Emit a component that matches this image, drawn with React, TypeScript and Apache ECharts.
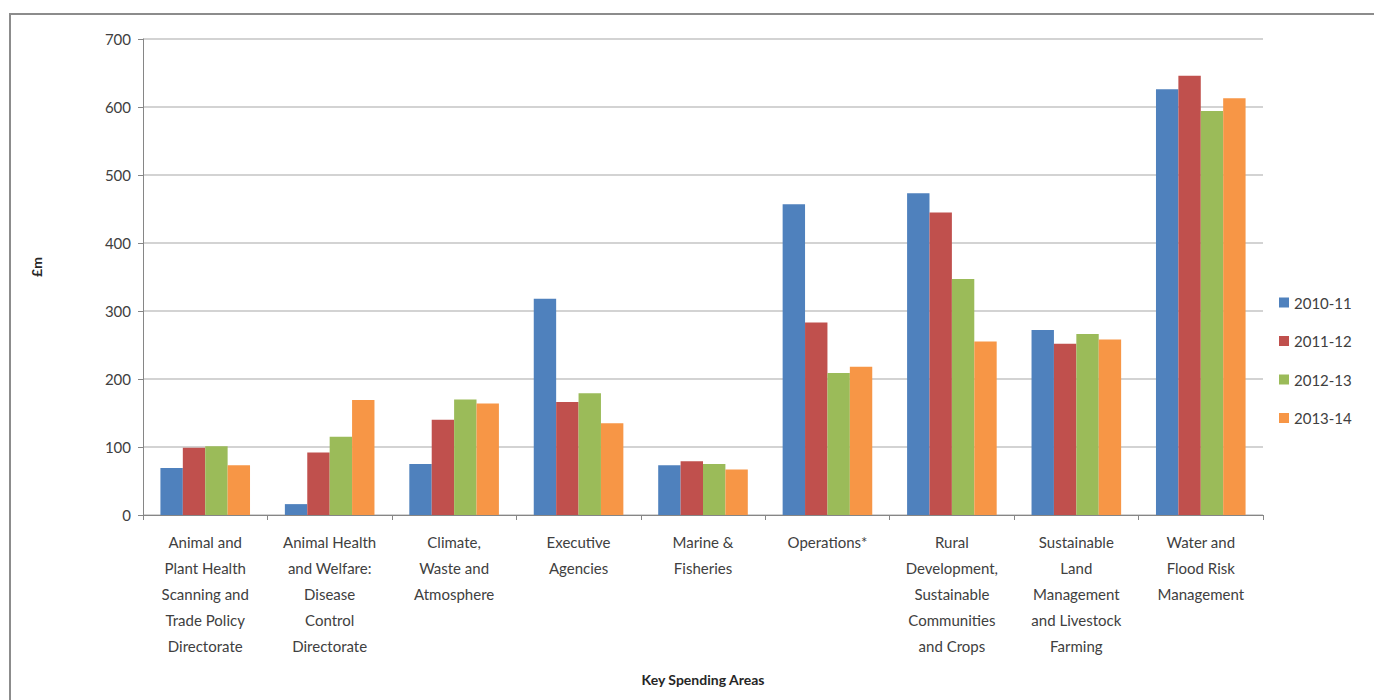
import React, { useEffect, useRef } from "react";
import * as echarts from "echarts";

const categories = [
  "Animal and\nPlant Health\nScanning and\nTrade Policy\nDirectorate",
  "Animal Health\nand Welfare:\nDisease\nControl\nDirectorate",
  "Climate,\nWaste and\nAtmosphere",
  "Executive\nAgencies",
  "Marine &\nFisheries",
  "Operations*",
  "Rural\nDevelopment,\nSustainable\nCommunities\nand Crops",
  "Sustainable\nLand\nManagement\nand Livestock\nFarming",
  "Water and\nFlood Risk\nManagement",
];

const seriesNames = ["2010-11", "2011-12", "2012-13", "2013-14"];
const values2010 = [69, 16, 75, 318, 73, 457, 473, 272, 626];
const values2011 = [99, 92, 140, 166, 79, 283, 445, 252, 646];
const values2012 = [101, 115, 170, 179, 75, 209, 347, 266, 594];
const values2013 = [73, 169, 164, 135, 67, 218, 255, 258, 613];
const colors = ["#4F81BD", "#C0504D", "#9BBB59", "#F79646"];

const FONT = "Lato";

export default function App() {
  const ref = useRef<HTMLDivElement>(null);
  useEffect(() => {
    document.body.style.margin = "0";
    const chart = echarts.init(ref.current!, null, { renderer: "svg" });
    const allValues = [values2010, values2011, values2012, values2013];
    chart.setOption({
      animation: false,
      backgroundColor: "#ffffff",
      textStyle: { fontFamily: FONT },
      graphic: [
        {
          type: "rect",
          shape: { x: 10, y: 14, width: 1400, height: 720 },
          style: { fill: "none", stroke: "#8c8c8c", lineWidth: 2 },
          silent: true,
        },
      ],
      grid: { left: 143, right: 111, top: 39, bottom: 185 },
      legend: {
        orient: "vertical",
        left: 1274,
        top: 290,
        itemWidth: 10,
        itemHeight: 10,
        itemGap: 23.5,
        icon: "rect",
        textStyle: { fontFamily: FONT, fontSize: 15, color: "#404040" },
        data: seriesNames,
      },
      xAxis: {
        type: "category",
        data: categories,
        name: "Key Spending Areas",
        nameLocation: "middle",
        nameGap: 157,
        nameTextStyle: { fontFamily: FONT, fontSize: 14, fontWeight: "bold", color: "#262626" },
        axisLine: { lineStyle: { color: "#868686" } },
        axisTick: { show: true, length: 5, lineStyle: { color: "#868686" } },
        axisLabel: {
          interval: 0,
          margin: 14,
          fontFamily: FONT,
          fontSize: 15,
          lineHeight: 26,
          color: "#404040",
          verticalAlign: "top",
        },
      },
      yAxis: {
        type: "value",
        min: 0,
        max: 700,
        interval: 100,
        name: "£m",
        nameLocation: "middle",
        nameGap: 100,
        nameRotate: 90,
        nameTextStyle: { fontFamily: FONT, fontSize: 14, fontWeight: "bold", color: "#262626", padding: [0, 0, 0, 20] },
        axisLine: { show: true, lineStyle: { color: "#868686" } },
        axisTick: { show: true, length: 5, lineStyle: { color: "#868686" } },
        axisLabel: { margin: 12, fontFamily: FONT, fontSize: 15, color: "#404040" },
        splitLine: { lineStyle: { color: "#c4c4c4", width: 1.5 } },
      },
      series: seriesNames.map((n, i) => ({
        name: n,
        type: "bar",
        data: allValues[i],
        itemStyle: { color: colors[i] },
        barGap: "0%",
        barCategoryGap: "28%",
      })),
    });
    return () => chart.dispose();
  }, []);
  return <div ref={ref} style={{ position: "absolute", left: 0, top: 0, width: 1374, height: 700 }} />;
}
